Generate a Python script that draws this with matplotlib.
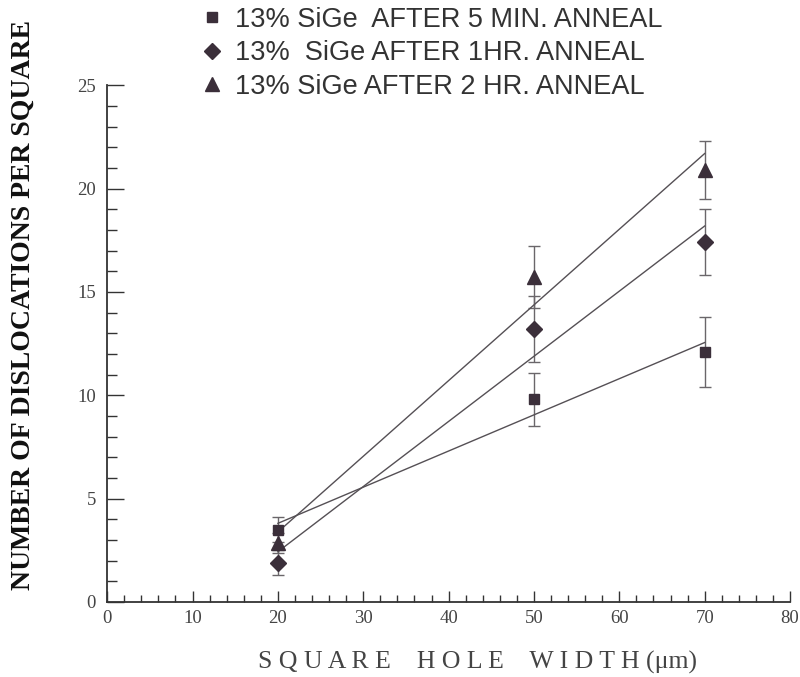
import numpy as np
import matplotlib
matplotlib.use("Agg")
import matplotlib.pyplot as plt
from matplotlib.ticker import MultipleLocator

widths = [20, 50, 70]
labels = ["13% SiGe  AFTER 5 MIN. ANNEAL",
          "13%  SiGe AFTER 1HR. ANNEAL",
          "13% SiGe AFTER 2 HR. ANNEAL"]
min5 = [3.5, 9.8, 12.1]
min5_err = [0.6, 1.3, 1.7]
hr1 = [1.9, 13.2, 17.4]
hr1_err = [0.6, 1.6, 1.6]
hr2 = [2.85, 15.7, 20.9]
hr2_err = [0.5, 1.5, 1.4]

series = [(min5, min5_err, "s", 7), (hr1, hr1_err, "D", 8), (hr2, hr2_err, "^", 10)]
mcol = "#3b2f3a"
lcol = "#555055"

fig = plt.figure(figsize=(8, 6.77), dpi=100)
ax = fig.add_axes([0.134, 0.111, 0.8535, 0.763])

handles = []
for (vals, err, mk, ms), lab in zip(series, labels):
    ax.errorbar(widths, vals, yerr=err, fmt="none", ecolor="#6a666a",
                elinewidth=1.0, capsize=4.5, capthick=1.0, zorder=2)
    h, = ax.plot(widths, vals, linestyle="none", marker=mk, markersize=ms,
                 color=mcol, zorder=4, label=lab)
    handles.append(h)
    k, b = np.polyfit(widths, vals, 1)
    xs = np.array([widths[0], widths[-1]])
    ax.plot(xs, k * xs + b, color=lcol, linewidth=1.0, zorder=3)

ax.set_xlim(0, 80)
ax.set_ylim(0, 25)
for s in ["top", "right"]:
    ax.spines[s].set_visible(False)
for s in ["left", "bottom"]:
    ax.spines[s].set_color("#333")
    ax.spines[s].set_linewidth(1.3)
ax.xaxis.set_major_locator(MultipleLocator(10))
ax.xaxis.set_minor_locator(MultipleLocator(2))
ax.yaxis.set_major_locator(MultipleLocator(5))
ax.yaxis.set_minor_locator(MultipleLocator(1))
ax.tick_params(axis="x", which="major", direction="in", length=8, width=1, colors="#333", pad=6)
ax.tick_params(axis="x", which="minor", direction="in", length=5, width=1, colors="#333")
ax.tick_params(axis="y", which="major", direction="in", length=12, width=1, colors="#333", pad=8)
ax.tick_params(axis="y", which="minor", direction="in", length=7, width=1, colors="#333")
for t in ax.get_xticklabels() + ax.get_yticklabels():
    t.set_fontfamily("Liberation Serif")
    t.set_fontsize(13.5)
    t.set_color("#444")

ax.set_xlabel("S Q U A R E    H O L E    W I D T H (\u03bcm)",
              fontfamily="Liberation Serif", fontsize=18.5, color="#444")
ax.xaxis.set_label_coords(0.543, -0.095)
fig.text(0.029, 0.55, "NUMBER OF DISLOCATIONS PER SQUARE", rotation=90,
         ha="center", va="center", fontfamily="Liberation Serif",
         fontweight="bold", fontsize=20, color="#111")

leg = fig.legend(handles=handles, labels=labels, loc="upper left",
                 bbox_to_anchor=(0.218, 1.026), frameon=False,
                 prop={"family": "Liberation Sans", "size": 19.5},
                 handletextpad=0.35, labelspacing=0.28, handlelength=1.0,
                 markerscale=1.0)
for t in leg.get_texts():
    t.set_color("#333")

fig.savefig("out.png", dpi=100)
